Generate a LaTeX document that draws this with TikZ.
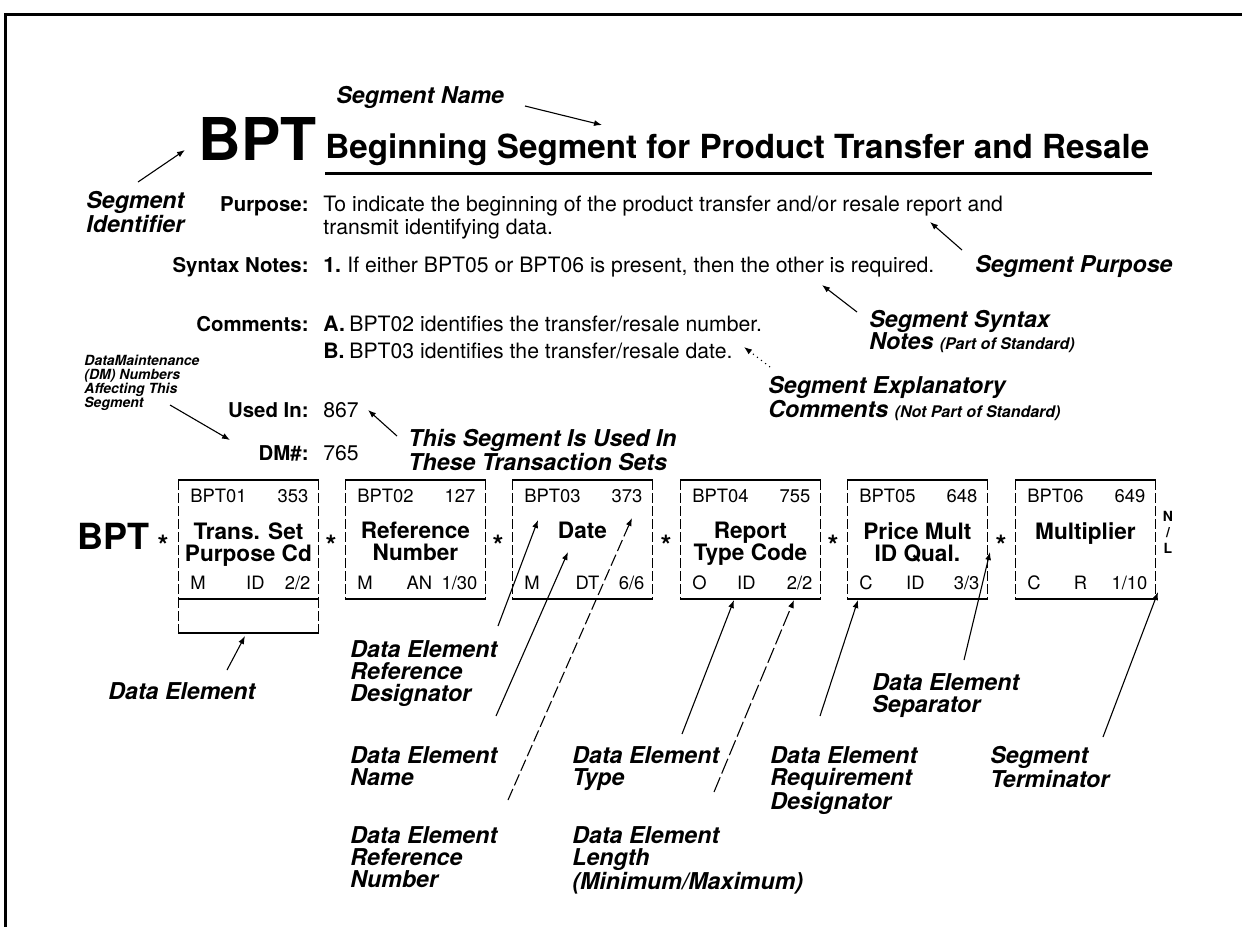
\documentclass[tikz,border=0pt]{standalone}
\usepackage{fontspec}
\setmainfont{TeX Gyre Heros}
\usetikzlibrary{arrows.meta}
\begin{document}
\begin{tikzpicture}[x=0.5pt,y=-0.5pt,
  lbl/.style={font=\bfseries\itshape\fontsize{11.6}{11}\selectfont, align=left, inner sep=0pt, anchor=north west},
  small/.style={font=\bfseries\itshape\fontsize{7}{7}\selectfont, align=left, inner sep=0pt, anchor=north west},
  body/.style={font=\fontsize{10.6}{12}\selectfont, inner sep=0pt, anchor=base west},
  head/.style={font=\bfseries\fontsize{10.2}{11}\selectfont, inner sep=0pt, anchor=base east},
  num/.style={font=\bfseries\fontsize{10.6}{12}\selectfont, inner sep=0pt, anchor=base west},
  ptr/.style={line width=0.55pt, -{Latex[length=4pt,width=3pt]}},
  elem/.style={minimum width=70pt, minimum height=59pt, inner sep=0pt, draw=none},
  cell/.style={font=\fontsize{9.2}{10}\selectfont, inner sep=0pt},
  ename/.style={font=\bfseries\fontsize{11.3}{11}\selectfont, align=center, inner sep=0pt},
  sep/.style={font=\bfseries\fontsize{14}{14}\selectfont, inner sep=0pt, anchor=base},
  edge solid/.style={line width=0.8pt},
  edge side/.style={line width=0.5pt, dash pattern=on 5pt off 1.5pt}
]
\useasboundingbox (0,0) rectangle (1242,927);
\fill[white] (0,0) rectangle (1242,927);

% page frame
\draw[line width=1.5pt] (1242,14) -- (5,14) -- (5,927);

% ---------- heading ----------
\node[lbl, anchor=base west] (segname) at (336,103) {Segment Name};
\node[font=\bfseries\fontsize{29.5}{30}\selectfont, inner sep=0pt, anchor=base west] (bpt) at (198,160) {BPT};
\node[font=\bfseries\fontsize{16.6}{18}\selectfont, inner sep=0pt, anchor=base west] (title) at (325,158) {Beginning Segment for Product Transfer and Resale};
\draw[line width=1.5pt] (325,173) -- (1152,173);
\node[lbl] (segid) at (86,191) {Segment\\Identifier};

\coordinate (t-name) at (525,106);  \coordinate (h-name) at (602,125);
\draw[ptr] (t-name) -- (h-name);
\coordinate (t-id) at (138,182);  \coordinate (h-id) at (185,150);
\draw[ptr] (t-id) -- (h-id);

% ---------- descriptive rows ----------
\node[head] (purp) at (309,211) {Purpose:};
\node[body] (purp1) at (323,211) {To indicate the beginning of the product transfer and/or resale report and};
\node[body] (purp2) at (323,234) {transmit identifying data.};

\node[head] (syn) at (309,272) {Syntax Notes:};
\node[num] (syn1n) at (323,272) {1.};
\node[body] (syn1) at (347,272) {If either BPT05 or BPT06 is present, then the other is required.};

\node[head] (com) at (309,331) {Comments:};
\node[num] (comAn) at (323,331) {A.};
\node[body] (comA) at (349,331) {BPT02 identifies the transfer/resale number.};
\node[num] (comBn) at (323,358) {B.};
\node[body] (comB) at (349,358) {BPT03 identifies the transfer/resale date.};

\node[head] (used) at (309,417) {Used In:};
\node[body] (usedv) at (323,417) {867};
\node[head] (dm) at (309,460) {DM\#:};
\node[body] (dmv) at (323,460) {765};

% annotations on the right
\node[lbl, anchor=base west] (segpurp) at (975,272) {Segment Purpose};
\coordinate (t-purp) at (962,250);  \coordinate (h-purp) at (930,222);
\draw[ptr] (t-purp) -- (h-purp);

\node[lbl] (segsyn) at (869,310) {Segment Syntax\\Notes {\fontsize{8}{8}\selectfont(Part of Standard)}};
\coordinate (t-syn) at (857,312);  \coordinate (h-syn) at (822,285);
\draw[ptr] (t-syn) -- (h-syn);

\node[lbl] (segexp) at (768,376) {Segment Explanatory\\Comments {\fontsize{8}{8}\selectfont(Not Part of Standard)}};
\coordinate (t-exp) at (770,367);  \coordinate (h-exp) at (744,347);
\draw[ptr, dotted] (t-exp) -- (h-exp);

\node[small] (dmnote) at (84,355) {DataMaintenance\\(DM) Numbers\\Affecting This\\Segment};
\coordinate (t-dm) at (170,405);  \coordinate (h-dm) at (230,440);
\draw[ptr] (t-dm) -- (h-dm);

\node[lbl] (usednote) at (408,429) {This Segment Is Used In\\These Transaction Sets};
\coordinate (t-used) at (397,436);  \coordinate (h-used) at (368,410);
\draw[ptr] (t-used) -- (h-used);

% ---------- data element boxes ----------
\node[font=\bfseries\fontsize{18}{18}\selectfont, inner sep=0pt, anchor=east] (bptrow) at (150,536) {BPT};

\foreach \n/\x in {1/178,2/345,3/512,4/680,5/847,6/1015}{
  \node[elem, anchor=north west] (b\n) at (\x,480) {};
  \draw[edge solid] (b\n.north west) -- (b\n.north east);
  \draw[edge solid] (b\n.south west) -- (b\n.south east);
  \draw[edge side] (b\n.north west) -- (b\n.south west);
  \draw[edge side] (b\n.north east) -- (b\n.south east);
}

% element contents: designator, number, name, requirement, type (with offset), length
\foreach \n/\d/\r/\nm/\q/\t/\o/\l in {
  1/BPT01/353/{Trans. Set\\Purpose Cd}/M/ID/3.5/2\slash 2,
  2/BPT02/127/{Reference\\Number}/M/AN/2/1\slash 30,
  3/BPT03/373/{Date\\\strut}/M/DT/2.5/6\slash 6,
  4/BPT04/755/{Report\\Type Code}/O/ID/-2/2\slash 2,
  5/BPT05/648/{Price Mult\\ID Qual.}/C/ID/-1/3\slash 3,
  6/BPT06/649/{Multiplier\\\strut}/C/R/-2.5/1\slash 10}{
  \node[cell, anchor=base west] (d\n) at ([xshift=6pt,yshift=-11pt]b\n.north west) {\d};
  \node[cell, anchor=base east] (r\n) at ([xshift=-5pt,yshift=-11pt]b\n.north east) {\r};
  \node[ename, anchor=north] (n\n) at ([yshift=-21pt]b\n.north) {\nm};
  \node[cell, anchor=base west] (q\n) at ([xshift=6pt,yshift=4.5pt]b\n.south west) {\q};
  \node[cell, anchor=base] (y\n) at ([xshift=\o pt,yshift=4.5pt]b\n.south) {\t};
  \node[cell, anchor=base east] (l\n) at ([xshift=-4pt,yshift=4.5pt]b\n.south east) {\l};
}

% empty element slot below the first box
\node[elem, minimum height=17pt, anchor=north west] (slot) at (178,598) {};
\draw[edge side] (slot.north west) -- (slot.south west);
\draw[edge side] (slot.north east) -- (slot.south east);
\draw[edge solid] (slot.south west) -- (slot.south east);

% separators
\foreach \i/\x in {0/163,1/331,2/498,3/666,4/833,5/1001}
  \node[sep] (s\i) at (\x,555) {*};
\node[font=\bfseries\fontsize{7}{8}\selectfont, align=center, inner sep=0pt] (term) at (1168,532) {N\\/\\L};

% ---------- explanations below ----------
\node[lbl] (de) at (108,682) {Data Element};
\node[lbl] (derd) at (350,640) {Data Element\\Reference\\Designator};
\node[lbl] (dename) at (350,746) {Data Element\\Name};
\node[lbl] (dernum) at (350,826) {Data Element\\Reference\\Number};
\node[lbl] (detype) at (572,746) {Data Element\\Type};
\node[lbl] (delen) at (572,826) {Data Element\\Length\\(Minimum/Maximum)};
\node[lbl] (dereq) at (770,746) {Data Element\\Requirement\\Designator};
\node[lbl] (desep) at (872,673) {Data Element\\Separator};
\node[lbl] (segterm) at (990,746) {Segment\\Terminator};

\coordinate (t1) at (227,670);  \coordinate (h1) at (245,636);
\coordinate (t2) at (498,626);  \coordinate (h2) at (538,520);
\coordinate (t3) at (496,716);  \coordinate (h3) at (568,552);
\coordinate (t4) at (508,800);  \coordinate (h4) at (632,518);
\coordinate (t5) at (682,734);  \coordinate (h5) at (734,600);
\coordinate (t6) at (714,792);  \coordinate (h6) at (794,600);
\coordinate (t7) at (820,716);  \coordinate (h7) at (858,600);
\coordinate (t8) at (964,660);  \coordinate (h8) at (990,552);
\coordinate (t9) at (1103,737); \coordinate (h9) at (1158,592);
\draw[ptr] (t1) -- (h1);
\draw[ptr] (t2) -- (h2);
\draw[ptr] (t3) -- (h3);
\draw[ptr, dash pattern=on 6pt off 2pt] (t4) -- (h4);
\draw[ptr] (t5) -- (h5);
\draw[ptr, dash pattern=on 8pt off 2pt] (t6) -- (h6);
\draw[ptr] (t7) -- (h7);
\draw[ptr] (t8) -- (h8);
\draw[ptr] (t9) -- (h9);
\end{tikzpicture}
\end{document}
